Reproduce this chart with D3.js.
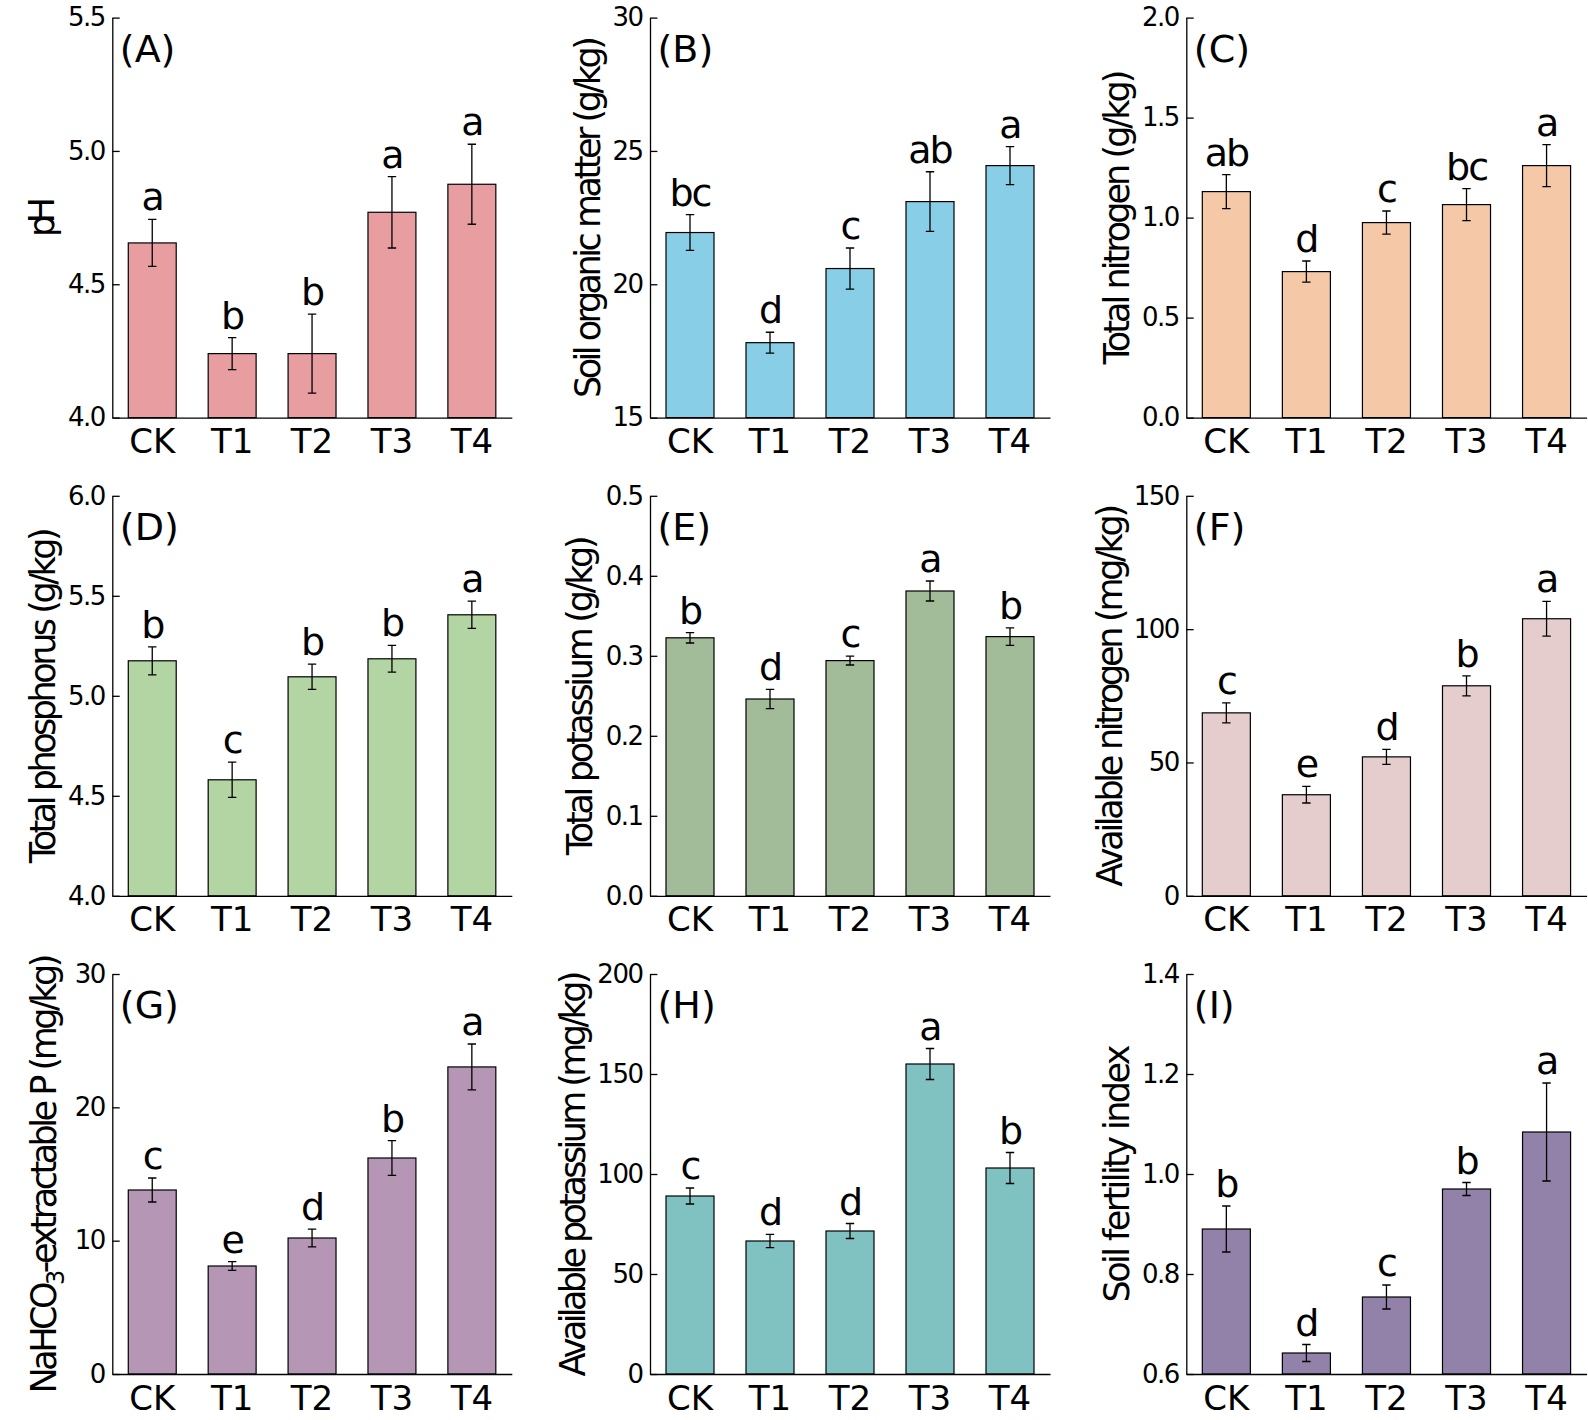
<!DOCTYPE html>
<meta charset="utf-8">
<style>
body { margin: 0; background: #fff; }
svg text { font-family: "DejaVu Sans", sans-serif; fill: #000; }
.bar { stroke: #000; stroke-width: 1.2px; }
.err { stroke: #000; stroke-width: 1.3px; fill: none; }
</style>
<body>
<svg width="1588" height="1420"></svg>
<script src="https://d3js.org/d3.v7.min.js"></script>
<script>

var treatments = ["CK", "T1", "T2", "T3", "T4"];

// (A) pH
var phMean = [4.655, 4.24, 4.24, 4.77, 4.875],
    phErr = [0.088, 0.06, 0.148, 0.134, 0.15],
    phSig = ["a", "b", "b", "a", "a"],
    phTicks = [4.0, 4.5, 5.0, 5.5];

// (B) soil organic matter
var somMean = [21.94, 17.81, 20.59, 23.1, 24.45],
    somErr = [0.67, 0.39, 0.77, 1.12, 0.71],
    somSig = ["bc", "d", "c", "ab", "a"],
    somTicks = [15, 20, 25, 30];

// (C) total nitrogen
var tnMean = [1.13, 0.73, 0.975, 1.065, 1.26],
    tnErr = [0.085, 0.053, 0.058, 0.08, 0.105],
    tnSig = ["ab", "d", "c", "bc", "a"],
    tnTicks = [0.0, 0.5, 1.0, 1.5, 2.0];

// (D) total phosphorus
var tpMean = [5.175, 4.58, 5.095, 5.185, 5.405],
    tpErr = [0.07, 0.088, 0.063, 0.067, 0.068],
    tpSig = ["b", "c", "b", "b", "a"],
    tpTicks = [4.0, 4.5, 5.0, 5.5, 6.0];

// (E) total potassium
var tkMean = [0.3225, 0.246, 0.294, 0.381, 0.324],
    tkErr = [0.0065, 0.012, 0.0055, 0.0125, 0.011],
    tkSig = ["b", "d", "c", "a", "b"],
    tkTicks = [0.0, 0.1, 0.2, 0.3, 0.4, 0.5];

// (F) available nitrogen
var anMean = [68.6, 37.9, 52.1, 78.75, 103.9],
    anErr = [3.75, 3.1, 2.8, 3.75, 6.5],
    anSig = ["c", "e", "d", "b", "a"],
    anTicks = [0, 50, 100, 150];

// (G) NaHCO3-extractable P
var apMean = [13.8, 8.1, 10.2, 16.2, 23.03],
    apErr = [0.9, 0.33, 0.66, 1.3, 1.72],
    apSig = ["c", "e", "d", "b", "a"],
    apTicks = [0, 10, 20, 30];

// (H) available potassium
var akMean = [89, 66.5, 71.5, 155, 103],
    akErr = [4, 3.3, 3.75, 7.75, 7.75],
    akSig = ["c", "d", "d", "a", "b"],
    akTicks = [0, 50, 100, 150, 200];

// (I) soil fertility index
var sfiMean = [0.89, 0.642, 0.754, 0.97, 1.084],
    sfiErr = [0.046, 0.017, 0.024, 0.013, 0.098],
    sfiSig = ["b", "d", "c", "b", "a"],
    sfiTicks = [0.6, 0.8, 1.0, 1.2, 1.4];

var panels = [
  {tag: "(A)", label: ["pH"], mean: phMean, err: phErr, sig: phSig, ticks: phTicks, fmt: ".1f", color: "#e89da1", labLen: 40, labX: -58.2},
  {tag: "(B)", label: ["Soil organic matter (g/kg)"], mean: somMean, err: somErr, sig: somSig, ticks: somTicks, fmt: "d", color: "#87cee6", labLen: 362, labX: -49.9},
  {tag: "(C)", label: ["Total nitrogen (g/kg)"], mean: tnMean, err: tnErr, sig: tnSig, ticks: tnTicks, fmt: ".1f", color: "#f5c8a8", labLen: 295, labX: -57},
  {tag: "(D)", label: ["Total phosphorus (g/kg)"], mean: tpMean, err: tpErr, sig: tpSig, ticks: tpTicks, fmt: ".1f", color: "#b3d4a3", labLen: 336, labX: -57.2},
  {tag: "(E)", label: ["Total potassium (g/kg)"], mean: tkMean, err: tkErr, sig: tkSig, ticks: tkTicks, fmt: ".1f", color: "#a2bb98", labLen: 320, labX: -57.6},
  {tag: "(F)", label: ["Available nitrogen (mg/kg)"], mean: anMean, err: anErr, sig: anSig, ticks: anTicks, fmt: "d", color: "#e5cdcd", labLen: 383, labX: -64.6},
  {tag: "(G)", label: ["NaHCO", "3", "-extractable P (mg/kg)"], mean: apMean, err: apErr, sig: apSig, ticks: apTicks, fmt: "d", color: "#b696b5", labLen: 440, labX: -56.5},
  {tag: "(H)", label: ["Available potassium (mg/kg)"], mean: akMean, err: akErr, sig: akSig, ticks: akTicks, fmt: "d", color: "#80c2c2", labLen: 406, labX: -65.4},
  {tag: "(I)", label: ["Soil fertility index"], mean: sfiMean, err: sfiErr, sig: sfiSig, ticks: sfiTicks, fmt: ".1f", color: "#9282aa", labLen: 258, labX: -57}
];

var colX = [112.3, 650, 1186.3],
    colW = [399.5, 400, 400.3],
    rowY = [17.6, 495.8, 974],
    H = 400;

var svg = d3.select("svg");

panels.forEach(function(p, i) {
  var w = colW[i % 3];
  var g = svg.append("g")
      .attr("transform", "translate(" + colX[i % 3] + "," + rowY[Math.floor(i / 3)] + ")");

  var x = d3.scaleBand()
      .domain(treatments)
      .range([0, w])
      .paddingInner(0.4)
      .paddingOuter(0.2);

  var y = d3.scaleLinear()
      .domain([p.ticks[0], p.ticks[p.ticks.length - 1]])
      .range([H, 0]);

  var rows = treatments.map(function(t, j) {
    return {t: t, mean: p.mean[j], err: p.err[j], sig: p.sig[j]};
  });

  g.selectAll(".bar")
    .data(rows)
    .enter().append("rect")
      .attr("class", "bar")
      .attr("x", function(d) { return x(d.t); })
      .attr("width", x.bandwidth())
      .attr("y", function(d) { return y(d.mean); })
      .attr("height", function(d) { return H - y(d.mean); })
      .attr("fill", p.color);

  var eb = g.selectAll(".eb")
    .data(rows)
    .enter().append("g")
      .attr("class", "eb")
      .attr("transform", function(d) { return "translate(" + (x(d.t) + x.bandwidth() / 2) + ",0)"; });

  eb.append("path")
      .attr("class", "err")
      .attr("d", function(d) {
        var hi = y(d.mean + d.err), lo = y(d.mean - d.err);
        return "M0," + hi + "V" + lo + "M-4.2," + hi + "H4.2M-4.2," + lo + "H4.2";
      });

  eb.append("text")
      .attr("y", function(d) { return y(d.mean + d.err) - 9; })
      .attr("text-anchor", "middle")
      .attr("font-size", 38)
      .attr("letter-spacing", -2)
      .text(function(d) { return d.sig; });

  var ya = g.append("g")
      .call(d3.axisLeft(y)
        .tickValues(p.ticks)
        .tickFormat(d3.format(p.fmt))
        .tickSizeInner(-7.4)
        .tickSizeOuter(0)
        .tickPadding(7.5));
  ya.attr("font-family", null).attr("font-size", null);
  ya.selectAll("text").attr("font-size", 26).attr("letter-spacing", -1.5);
  ya.selectAll("line, path").attr("stroke-width", 1.3);

  var xa = g.append("g")
      .attr("transform", "translate(0," + H + ")")
      .call(d3.axisBottom(x).tickSize(0).tickPadding(11.5));
  xa.attr("font-family", null).attr("font-size", null);
  xa.selectAll("text").attr("font-size", 34);
  xa.select(".domain").attr("stroke-width", 1.3);

  g.append("text")
      .attr("x", 7.5)
      .attr("y", 44)
      .attr("font-size", 38)
      .text(p.tag);

  var lab = g.append("text")
      .attr("transform", "translate(" + p.labX + "," + (H / 2 - 0.5) + ") rotate(-90)")
      .attr("text-anchor", "middle")
      .attr("font-size", 35)
      .attr("textLength", p.labLen)
      .attr("lengthAdjust", "spacing");

  if (p.label.length === 1) {
    lab.text(p.label[0]);
  } else {
    lab.append("tspan").text(p.label[0]);
    lab.append("tspan").attr("font-size", 24).attr("dy", 8).text(p.label[1]);
    lab.append("tspan").attr("dy", -8).text(p.label[2]);
  }
});

</script>
</body>
